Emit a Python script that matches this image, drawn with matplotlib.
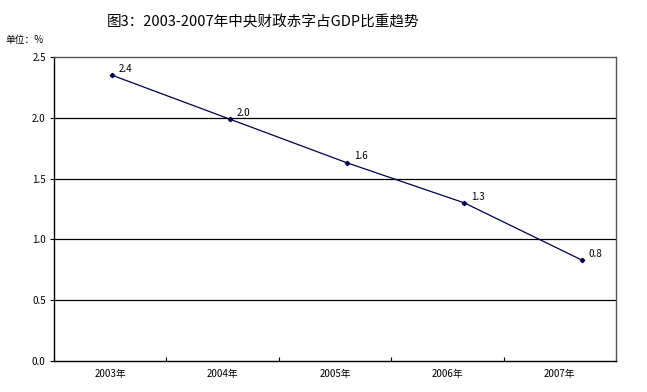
import matplotlib
matplotlib.use("Agg")
import matplotlib.pyplot as plt
import numpy as np

plt.rcParams['font.family'] = ['Noto Sans CJK SC', 'DejaVu Sans']

years = ['2003年', '2004年', '2005年', '2006年', '2007年']
deficit = [2.35, 1.99, 1.63, 1.30, 0.83]
yticks = [0.0, 0.5, 1.0, 1.5, 2.0, 2.5]

fig = plt.figure(figsize=(6.47, 3.92), dpi=100)
ax = fig.add_axes([0.0835, 0.079, 0.8685, 0.7756])

x = np.arange(len(years))

# the original chart draws the series slightly off the category centres
lx = ax.twiny()
lx.plot(x, deficit, color='#000050', lw=0.9, marker='D', ms=2.2)
for xi, v in zip(x, deficit):
    lx.annotate(f'{v:.1f}', (xi, v), xytext=(5, 1), textcoords='offset points',
                fontsize=7, color='black', va='bottom', ha='left')
lx.set_xlim(-0.494, 4.29)
lx.set_ylim(0, 2.5)
lx.set_xticks([])
lx.axis('off')

ax.set_xlim(-0.5, len(years) - 0.5)
ax.set_ylim(0, 2.5)
ax.set_yticks(yticks)
ax.set_yticklabels([f'{t:.1f}' for t in yticks], fontsize=7)
for t in yticks[1:-1]:
    ax.axhline(t, color='black', lw=0.9, zorder=0)

ax.set_xticks(x)
ax.set_xticklabels(years, fontsize=7)
ax.set_xticks(np.arange(len(years) + 1) - 0.5, minor=True)
ax.tick_params(axis='x', which='major', length=0, pad=6)
ax.tick_params(axis='x', which='minor', direction='in', length=3, width=0.8)
ax.tick_params(axis='y', length=3, width=0.8, pad=3)

for side in ['left', 'bottom']:
    ax.spines[side].set_color('black')
    ax.spines[side].set_linewidth(1)
for side in ['top', 'right']:
    ax.spines[side].set_color('#555555')
    ax.spines[side].set_linewidth(1)

fig.text(263 / 647, 1 - 22 / 392, '图3：2003-2007年中央财政赤字占GDP比重趋势',
         ha='center', va='center', fontsize=10.5, fontweight='medium')
fig.text(5 / 647, 1 - 40 / 392, '单位：%', ha='left', va='center', fontsize=7)

fig.savefig('out.png', dpi=100)
